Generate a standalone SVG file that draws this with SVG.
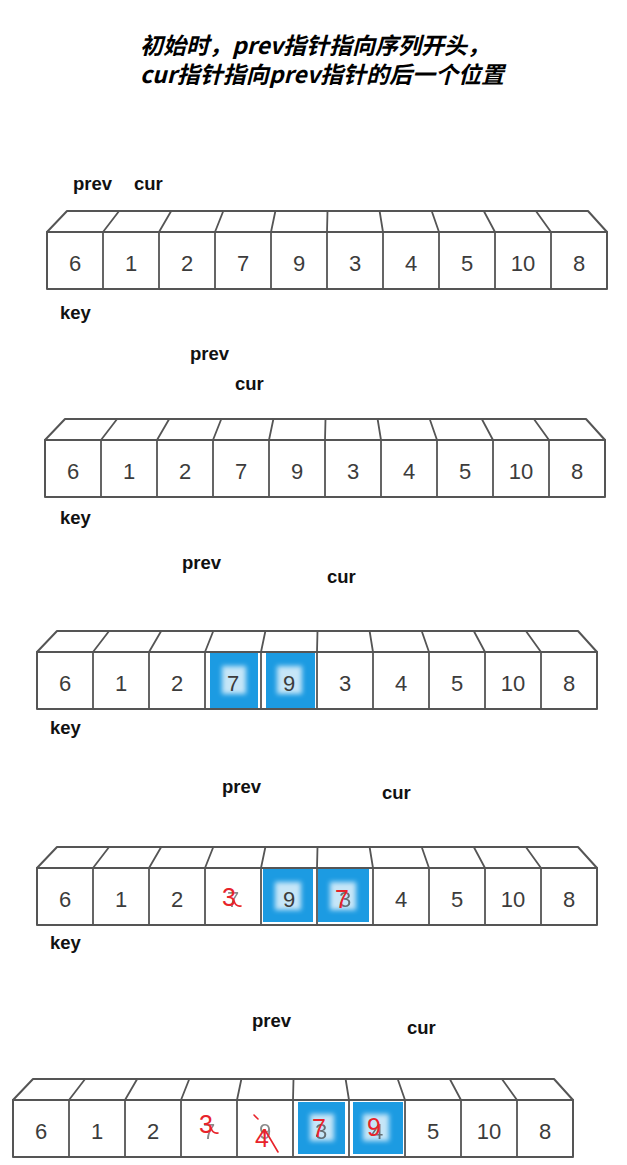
<svg xmlns="http://www.w3.org/2000/svg" xmlns:xlink="http://www.w3.org/1999/xlink" width="627" height="1165" viewBox="0 0 627 1165">
<style>
.title{font-family:"Noto Sans CJK SC","Noto Sans",sans-serif;font-weight:bold;font-style:italic;font-size:23px;fill:#000}
.lbl{font-family:"Liberation Sans",Arial,sans-serif;font-weight:bold;font-size:18.5px;fill:#111}
.num{font-family:"Liberation Sans",Arial,sans-serif;font-size:22px;fill:#3c3c3c;text-anchor:middle}
.red{font-family:"Liberation Sans",Arial,sans-serif;font-size:25px;fill:#e8232a;text-anchor:middle}
.edge{fill:#fff;stroke:#555;stroke-width:2;stroke-linejoin:round}
.div{fill:none;stroke:#555;stroke-width:1.8}
.blue{fill:#1c9be2}
.hole{fill:#fff;opacity:0.75;filter:url(#soft)}
.scr{fill:none;stroke:#e8232a;stroke-width:1.6;stroke-linecap:round}
</style>
<defs>
<filter id="soft" x="-30%" y="-30%" width="160%" height="160%"><feGaussianBlur stdDeviation="2.5"/></filter>
<g id="arr">
<path class="edge" d="M0,0 L20,-21 L541,-21 L560,0 Z"/>
<rect class="edge" x="0" y="0" width="560" height="57"/>
<path class="div" d="M56,0V57M112,0V57M168,0V57M224,0V57M280,0V57M336,0V57M392,0V57M448,0V57M504,0V57"/>
<path class="div" d="M56,0L72.1,-21M112,0L124.2,-21M168,0L176.3,-21M224,0L228.4,-21M280,0L280.5,-21M336,0L332.6,-21M392,0L384.7,-21M448,0L436.8,-21M504,0L488.9,-21"/>
</g>
</defs>

<g id="title">
<text class="title" x="140" y="54">初始时，prev指针指向序列开头，</text>
<text class="title" x="140" y="83">cur指针指向prev指针的后一个位置</text>
</g>

<g id="step1">
<text class="lbl" x="73" y="190">prev</text>
<text class="lbl" x="134" y="190">cur</text>
<g transform="translate(47,232)">
<use xlink:href="#arr" href="#arr"/>
<text class="num" x="28" y="39">6</text><text class="num" x="84" y="39">1</text><text class="num" x="140" y="39">2</text><text class="num" x="196" y="39">7</text><text class="num" x="252" y="39">9</text><text class="num" x="308" y="39">3</text><text class="num" x="364" y="39">4</text><text class="num" x="420" y="39">5</text><text class="num" x="476" y="39">10</text><text class="num" x="532" y="39">8</text>
</g>
<text class="lbl" x="60" y="319">key</text>
</g>

<g id="step2">
<text class="lbl" x="190" y="360">prev</text>
<text class="lbl" x="235" y="390">cur</text>
<g transform="translate(45,440)">
<use xlink:href="#arr" href="#arr"/>
<text class="num" x="28" y="39">6</text><text class="num" x="84" y="39">1</text><text class="num" x="140" y="39">2</text><text class="num" x="196" y="39">7</text><text class="num" x="252" y="39">9</text><text class="num" x="308" y="39">3</text><text class="num" x="364" y="39">4</text><text class="num" x="420" y="39">5</text><text class="num" x="476" y="39">10</text><text class="num" x="532" y="39">8</text>
</g>
<text class="lbl" x="60" y="524">key</text>
</g>

<g id="step3">
<text class="lbl" x="182" y="569">prev</text>
<text class="lbl" x="327" y="583">cur</text>
<g transform="translate(37,652)">
<use xlink:href="#arr" href="#arr"/>
<rect class="blue" x="173" y="1" width="48" height="55"/>
<rect class="hole" x="185" y="14" width="24" height="28"/>
<rect class="blue" x="229" y="1" width="49" height="55"/>
<rect class="hole" x="240" y="14" width="25" height="28"/>
<text class="num" x="28" y="39">6</text><text class="num" x="84" y="39">1</text><text class="num" x="140" y="39">2</text><text class="num" x="196" y="39">7</text><text class="num" x="252" y="39">9</text><text class="num" x="308" y="39">3</text><text class="num" x="364" y="39">4</text><text class="num" x="420" y="39">5</text><text class="num" x="476" y="39">10</text><text class="num" x="532" y="39">8</text>
</g>
<text class="lbl" x="50" y="734">key</text>
</g>

<g id="step4">
<text class="lbl" x="222" y="793">prev</text>
<text class="lbl" x="382" y="799">cur</text>
<g transform="translate(37,868)">
<use xlink:href="#arr" href="#arr"/>
<rect class="blue" x="226" y="1" width="50" height="53"/>
<rect class="hole" x="238" y="14" width="26" height="28"/>
<rect class="blue" x="281" y="1" width="51" height="53"/>
<rect class="hole" x="293" y="14" width="26" height="28"/>
<text class="num" x="28" y="39">6</text><text class="num" x="84" y="39">1</text><text class="num" x="140" y="39">2</text><text class="num" x="196" y="39" opacity="0.6">7</text><text class="num" x="252" y="39">9</text><text class="num" x="308" y="39" opacity="0.7">3</text><text class="num" x="364" y="39">4</text><text class="num" x="420" y="39">5</text><text class="num" x="476" y="39">10</text><text class="num" x="532" y="39">8</text>
<text class="red" x="192" y="38">3</text>
<path class="scr" d="M197,33 q2,6 7,5"/>
<text class="red" x="305" y="40">7</text>
</g>
<text class="lbl" x="50" y="949">key</text>
</g>

<g id="step5">
<text class="lbl" x="252" y="1027">prev</text>
<text class="lbl" x="407" y="1034">cur</text>
<g transform="translate(13,1100)">
<use xlink:href="#arr" href="#arr"/>
<rect class="blue" x="285" y="2" width="47" height="52"/>
<rect class="hole" x="297" y="14" width="24" height="27"/>
<rect class="blue" x="340" y="2" width="50" height="52"/>
<rect class="hole" x="350" y="14" width="26" height="27"/>
<text class="num" x="28" y="39">6</text><text class="num" x="84" y="39">1</text><text class="num" x="140" y="39">2</text><text class="num" x="196" y="39" opacity="0.6">7</text><text class="num" x="252" y="39" opacity="0.6">9</text><text class="num" x="308" y="39" opacity="0.7">3</text><text class="num" x="364" y="39" opacity="0.7">4</text><text class="num" x="420" y="39">5</text><text class="num" x="476" y="39">10</text><text class="num" x="532" y="39">8</text>
<text class="red" x="193" y="33">3</text>
<path class="scr" d="M198,28 q2,6 7,5"/>
<text class="red" x="249" y="47">4</text>
<path class="scr" d="M241,15 l4,4 M252,30 l13,22"/>
<text class="red" x="306" y="37">7</text>
<text class="red" x="361" y="36">9</text>
</g>
</g>
</svg>
